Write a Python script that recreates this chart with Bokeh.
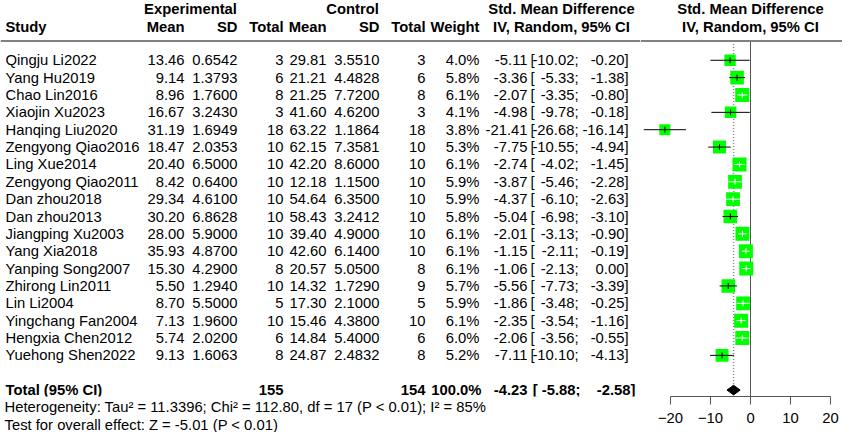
import math
from bokeh.plotting import figure
from bokeh.models import Range1d, Span, LinearAxis, FixedTicker, ColumnDataSource, Title
from bokeh.layouts import row
from bokeh.embed import file_html
from bokeh.resources import INLINE
from bokeh.core.properties import value

# ---------------- data ----------------
studies = ["Qingju Li2022", "Yang Hu2019", "Chao Lin2016", "Xiaojin Xu2023", "Hanqing Liu2020",
           "Zengyong Qiao2016", "Ling Xue2014", "Zengyong Qiao2011", "Dan zhou2018", "Dan zhou2013",
           "Jiangping Xu2003", "Yang Xia2018", "Yanping Song2007", "Zhirong Lin2011", "Lin Li2004",
           "Yingchang Fan2004", "Hengxia Chen2012", "Yuehong Shen2022"]
exp_mean = [13.46, 9.14, 8.96, 16.67, 31.19, 18.47, 20.40, 8.42, 29.34, 30.20, 28.00, 35.93, 15.30, 5.50, 8.70, 7.13, 5.74, 9.13]
exp_sd = [0.6542, 1.3793, 1.7600, 3.2430, 1.6949, 2.0353, 6.5000, 0.6400, 4.6100, 6.8628, 5.9000, 4.8700, 4.2900, 1.2940, 5.5000, 1.9600, 2.0200, 1.6063]
exp_n = [3, 6, 8, 3, 18, 10, 10, 10, 10, 10, 10, 10, 8, 10, 5, 10, 6, 8]
ctl_mean = [29.81, 21.21, 21.25, 41.60, 63.22, 62.15, 42.20, 12.18, 54.64, 58.43, 39.40, 42.60, 20.57, 14.32, 17.30, 15.46, 14.84, 24.87]
ctl_sd = [3.5510, 4.4828, 7.7200, 4.6200, 1.1864, 7.3581, 8.6000, 1.1500, 6.3500, 3.2412, 4.9000, 6.1400, 5.0500, 1.7290, 2.1000, 4.3800, 5.4000, 2.4832]
ctl_n = [3, 6, 8, 3, 18, 10, 10, 10, 10, 10, 10, 10, 8, 9, 5, 10, 6, 8]
weight = [4.0, 5.8, 6.1, 4.1, 3.8, 5.3, 6.1, 5.9, 5.9, 5.8, 6.1, 6.1, 6.1, 5.7, 5.9, 6.1, 6.0, 5.2]
smd = [-5.11, -3.36, -2.07, -4.98, -21.41, -7.75, -2.74, -3.87, -4.37, -5.04, -2.01, -1.15, -1.06, -5.56, -1.86, -2.35, -2.06, -7.11]
ci_lo = [-10.02, -5.33, -3.35, -9.78, -26.68, -10.55, -4.02, -5.46, -6.10, -6.98, -3.13, -2.11, -2.13, -7.73, -3.48, -3.54, -3.56, -10.10]
ci_hi = [-0.20, -1.38, -0.80, -0.18, -16.14, -4.94, -1.45, -2.28, -2.63, -3.10, -0.90, -0.19, 0.00, -3.39, -0.25, -1.16, -0.55, -4.13]
pooled_est = -4.23
pooled_lo = -5.88
pooled_hi = -2.58
total_weight = 100.0
x_ticks = [-20, -10, 0, 10, 20]
het_text = "Heterogeneity: Tau\u00b2 = 11.3396; Chi\u00b2 = 112.80, df = 17 (P < 0.01); I\u00b2 = 85%"
test_text = "Test for overall effect: Z = -5.01 (P < 0.01)"

# ---------------- layout ----------------
W_LEFT, W_RIGHT, H = 640, 202, 432
Y_TOP, Y_BOT = -3.444, 21.444
PX_PER_ROW = H / (Y_BOT - Y_TOP)
AXIS_PANEL = 36
RIGHT_BOT = Y_TOP + (H - AXIS_PANEL) / PX_PER_ROW
XR = (-27.5, 23.0)
PPU = W_RIGHT / (XR[1] - XR[0])

FONT = value("Liberation Sans")
FSZ = "14.8px"
FS = value(FSZ)
HDR1, HDR2, HLINE = -2.94, -1.94, -1.11
n = len(studies)
rows = list(range(n))
TOT_ROW = n + 1


def base_fig(w, xr, yr, bottom=0):
    p = figure(width=w, height=H, x_range=Range1d(*xr), y_range=yr,
               x_axis_type=None, y_axis_type=None, toolbar_location=None,
               output_backend="svg", min_border_left=0, min_border_right=0,
               min_border_top=0, min_border_bottom=bottom)
    p.outline_line_color = None
    p.background_fill_color = "white"
    p.border_fill_color = "white"
    p.grid.visible = False
    return p


left = base_fig(W_LEFT, (0, W_LEFT), Range1d(RIGHT_BOT, Y_TOP), bottom=AXIS_PANEL)


def txt(p, xs, ys, texts, align="left", bold=False):
    p.text(x=xs, y=ys, text=texts, text_align=align, text_baseline="middle",
           text_font=FONT, text_font_size=FS, text_color="black",
           text_font_style="bold" if bold else "normal")


# header
txt(left, [190, 352], [HDR1, HDR1], ["Experimental", "Control"], "center", True)
txt(left, [5], [HDR2], ["Study"], "left", True)
txt(left, [184, 237, 283, 326, 379, 425, 479], [HDR2] * 7,
    ["Mean", "SD", "Total", "Mean", "SD", "Total", "Weight"], "right", True)
txt(left, [561, 561], [HDR1, HDR2], ["Std. Mean Difference", "IV, Random, 95% CI"], "center", True)
left.add_layout(Span(location=HLINE, dimension="width", line_color="#808080", line_width=2))

# study rows
txt(left, [5] * n, rows, studies, "left")
cols = [
    (184, [f"{v:.2f}" for v in exp_mean]),
    (237, [f"{v:.4f}" for v in exp_sd]),
    (283, [str(v) for v in exp_n]),
    (326, [f"{v:.2f}" for v in ctl_mean]),
    (379, [f"{v:.4f}" for v in ctl_sd]),
    (425, [str(v) for v in ctl_n]),
    (479, [f"{v:.1f}%" for v in weight]),
    (527, [f"{v:.2f}" for v in smd]),
    (578, [f"{v:.2f};" for v in ci_lo]),
    (628, [f"{v:.2f}]" for v in ci_hi]),
]
for xpos, vals in cols:
    txt(left, [xpos] * n, rows, vals, "right")
txt(left, [530] * n, rows, ["["] * n, "left")

# total row
txt(left, [5], [TOT_ROW], ["Total (95% CI)"], "left", True)
txt(left, [283, 425, 481, 527, 580, 635], [TOT_ROW] * 6,
    [str(sum(exp_n)), str(sum(ctl_n)), f"{total_weight:.1f}%", f"{pooled_est:.2f}",
     f"[ {pooled_lo:.2f};", f"{pooled_hi:.2f}]"], "right", True)

# heterogeneity / overall test lines, stacked below the table frame
for tt in [het_text, test_text]:
    t = Title(text=tt, align="left", offset=4, standoff=0,
              text_font="Liberation Sans", text_font_size=FSZ,
              text_font_style="normal", text_color="black")
    left.add_layout(t, "below")

# ---------------- forest panel ----------------
right = base_fig(W_RIGHT, XR, Range1d(RIGHT_BOT, Y_TOP), bottom=AXIS_PANEL)
txt(right, [0, 0], [HDR1, HDR2], ["Std. Mean Difference", "IV, Random, 95% CI"], "center", True)
right.add_layout(Span(location=HLINE, dimension="width", line_color="#808080", line_width=2))

right.segment(x0=[0], y0=[HLINE], x1=[0], y1=[RIGHT_BOT], line_color="#555555", line_width=1)
right.segment(x0=[pooled_est], y0=[HLINE], x1=[pooled_est], y1=[TOT_ROW],
              line_color="#8c8c8c", line_width=1.5, line_dash="1 2")

sizes = [14 * math.sqrt(w / 6.1) for w in weight]
colors = []
for e, lo, hi, s in zip(smd, ci_lo, ci_hi, sizes):
    half = s / 2 / PPU * 1.03
    colors.append("white" if (e - lo) <= half and (hi - e) <= half else "black")

src = ColumnDataSource(dict(x=smd, y=rows, lo=ci_lo, hi=ci_hi, size=sizes, color=colors))
right.scatter(x="x", y="y", size="size", marker="square", fill_color="#00ff00",
              line_color=None, source=src)
right.segment(x0="lo", y0="y", x1="hi", y1="y", line_color="color", line_width=1, source=src)
right.scatter(x="x", y="y", marker="dash", angle=math.pi / 2, size=6,
              line_color="color", line_width=1, source=src)

dh = 0.28
right.patch(x=[pooled_lo, pooled_est, pooled_hi, pooled_est],
            y=[TOT_ROW, TOT_ROW - dh, TOT_ROW, TOT_ROW + dh],
            fill_color="black", line_color="black")

ax = LinearAxis(ticker=FixedTicker(ticks=x_ticks), bounds=(x_ticks[0], x_ticks[-1]))
ax.major_tick_out = 8
ax.major_tick_in = 0
ax.minor_tick_out = 0
ax.minor_tick_in = 0
ax.major_label_standoff = 8
ax.axis_line_color = "#555555"
ax.major_tick_line_color = "#555555"
ax.major_label_text_font = "Liberation Sans"
ax.major_label_text_font_size = FSZ
ax.major_label_text_color = "black"
right.add_layout(ax, "below")

layout = row(left, right, spacing=0)
open("out.html", "w").write(file_html(layout, INLINE))
